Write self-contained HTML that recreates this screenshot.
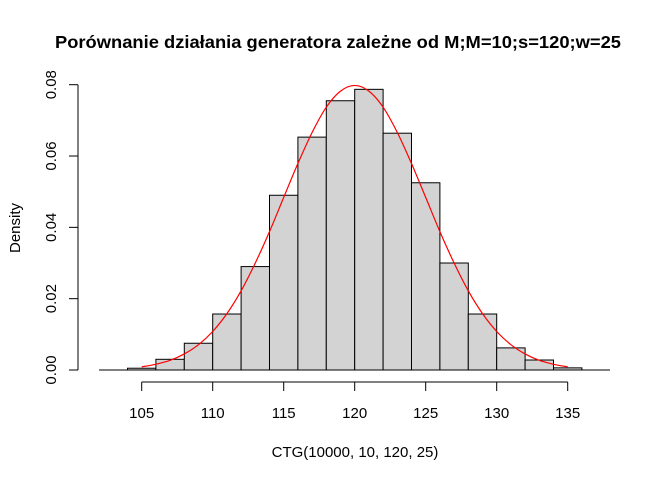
<!DOCTYPE html>
<html><head><meta charset="utf-8"><style>
html,body{margin:0;padding:0;background:#fff}
svg{display:block;font-family:"Liberation Sans",Arial,sans-serif}
</style></head><body>
<svg id="chart" width="672" height="480">
<text x="338" y="48" font-size="17.5" font-weight="bold" text-anchor="middle" textLength="566" lengthAdjust="spacingAndGlyphs">Porównanie działania generatora zależne od M;M=10;s=120;w=25</text>
<text x="355" y="457" font-size="15" text-anchor="middle">CTG(10000, 10, 120, 25)</text>
<text transform="translate(20,228) rotate(-90)" font-size="15" text-anchor="middle">Density</text>
<g id="bars"></g><g id="axes"></g><g id="curve"></g>
</svg>
<script>
const binStarts=[104,106,108,110,112,114,116,118,120,122,124,126,128,130,132,134];
const densities=[0.0005,0.003,0.0075,0.0157,0.029,0.049,0.0653,0.0755,0.0787,0.0664,0.0525,0.030,0.0157,0.0062,0.0028,0.0006];
const binWidth=2;
const xTicks=[105,110,115,120,125,130,135];
const yTicks=[0,0.02,0.04,0.06,0.08];
const yTickLabels=["0.00","0.02","0.04","0.06","0.08"];
const curveX=[105,106,107,108,109,110,111,112,113,114,115,116,117,118,119,120,121,122,123,124,125,126,127,128,129,130,131,132,133,134,135];
const curveY=[0.0009,0.0016,0.0027,0.0045,0.0071,0.0108,0.0158,0.0222,0.0300,0.0388,0.0484,0.0579,0.0666,0.0737,0.0782,0.0798,0.0782,0.0737,0.0666,0.0579,0.0484,0.0388,0.0300,0.0222,0.0158,0.0108,0.0071,0.0045,0.0027,0.0016,0.0009];
const NS="http://www.w3.org/2000/svg";
const X=v=>141.7+(v-105)*14.2;
const Y=v=>370-v*(285.3/0.08);
function mk(p,t,a){const e=document.createElementNS(NS,t);for(const k in a)e.setAttribute(k,a[k]);p.appendChild(e);return e;}
const bars=document.getElementById('bars'),axes=document.getElementById('axes'),curve=document.getElementById('curve');
binStarts.forEach((b,i)=>{
 const r=mk(bars,'rect',{x:X(b),y:Y(densities[i]),width:X(b+binWidth)-X(b),height:Y(0)-Y(densities[i]),fill:'#d3d3d3',stroke:'#000','stroke-width':1});
 
 
});
const base=mk(axes,'line',{x1:99,x2:610,y1:Y(0),y2:Y(0),stroke:'#000','stroke-width':1});


const xa=mk(axes,'path',{d:`M${X(xTicks[0])},382H${X(xTicks[xTicks.length-1])}`,stroke:'#000',fill:'none'});


xTicks.forEach(t=>{
 mk(axes,'line',{x1:X(t),x2:X(t),y1:382,y2:391,stroke:'#000'});
 const tx=mk(axes,'text',{x:X(t),y:418,'font-size':15,'text-anchor':'middle'});tx.textContent=t;
 
 
});
const ya=mk(axes,'path',{d:`M78,${Y(0)}V${Y(0.08)}`,stroke:'#000',fill:'none'});


yTicks.forEach((t,i)=>{
 mk(axes,'line',{x1:69,x2:78,y1:Y(t),y2:Y(t),stroke:'#000'});
 const tx=mk(axes,'text',{transform:`translate(56,${Y(t)}) rotate(-90)`,'font-size':15,'text-anchor':'middle'});tx.textContent=yTickLabels[i];
 
 
});
const P=curveX.map((x,i)=>[X(x),Y(curveY[i])]);
let d=`M${P[0][0]},${P[0][1]}`;
for(let i=0;i<P.length-1;i++){
 const p0=P[Math.max(0,i-1)],p1=P[i],p2=P[i+1],p3=P[Math.min(P.length-1,i+2)];
 const c1=[p1[0]+(p2[0]-p0[0])/6,p1[1]+(p2[1]-p0[1])/6];
 const c2=[p2[0]-(p3[0]-p1[0])/6,p2[1]-(p3[1]-p1[1])/6];
 d+=` C${c1[0]},${c1[1]} ${c2[0]},${c2[1]} ${p2[0]},${p2[1]}`;
}
const pl=mk(curve,'path',{d:d,fill:'none',stroke:'#ff0000','stroke-width':1.2});


</script>
</body></html>
